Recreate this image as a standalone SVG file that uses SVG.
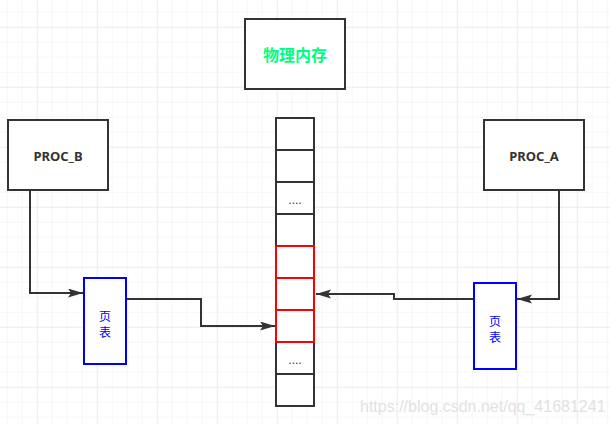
<svg xmlns="http://www.w3.org/2000/svg" width="610" height="424" viewBox="0 0 610 424">
  <style>
    .box { fill: #ffffff; stroke: #333333; stroke-width: 2; }
    .cell { fill: #ffffff; stroke: #333333; stroke-width: 2; }
    .red { fill: none; stroke: #ff0000; stroke-width: 2; }
    .pt { fill: #ffffff; stroke: #0000ff; stroke-width: 2; }
    .lbl { font-family: "Noto Sans", "Liberation Sans", sans-serif; font-weight: bold; font-size: 13px; fill: #333333; text-anchor: middle; dominant-baseline: central; }
    .mem { font-family: "Noto Sans CJK SC", sans-serif; font-weight: bold; font-size: 16px; fill: #00ff80; text-anchor: middle; dominant-baseline: central; }
    .ptl { font-family: "Noto Sans CJK SC", sans-serif; font-size: 12px; fill: #0000ff; text-anchor: middle; dominant-baseline: central; }
    .dots { font-family: "Liberation Sans", sans-serif; font-size: 12px; fill: #333333; text-anchor: middle; }
    .conn { fill: none; stroke: #333333; stroke-width: 2; }
    .wm { font-family: "Liberation Sans", Arial, sans-serif; font-size: 16px; fill: #e2e2e2; }
  </style>
  <defs>
    <pattern id="minor" x="6.7" y="11.7" width="15" height="15" patternUnits="userSpaceOnUse">
      <path d="M0,0 V15 M0,0 H15" fill="none" stroke="#f0f0f0" stroke-width="1"/>
    </pattern>
    <pattern id="major" x="36.7" y="26.7" width="60" height="60" patternUnits="userSpaceOnUse">
      <path d="M0,0 V60 M0,0 H60" fill="none" stroke="#e2e2e2" stroke-width="1"/>
    </pattern>
    <marker id="arr" markerUnits="userSpaceOnUse" markerWidth="16" markerHeight="10" refX="15" refY="4.5" orient="auto">
      <path d="M0,0 L15,4.5 L0,9 L3,4.5 Z" fill="#333333"/>
    </marker>
  </defs>
  <rect width="610" height="424" fill="#ffffff"/>
  <rect width="610" height="424" fill="url(#minor)"/>
  <rect width="610" height="424" fill="url(#major)"/>

  <g id="connectors">
    <path class="conn" d="M30,190 V293 H83" marker-end="url(#arr)"/>
    <path class="conn" d="M126,299 H201 V326 H275" marker-end="url(#arr)"/>
    <path class="conn" d="M559,190 V299 H517" marker-end="url(#arr)"/>
    <path class="conn" d="M474,299 H394 V294 H316" marker-end="url(#arr)"/>
  </g>

  <g id="mem-title">
    <rect class="box" x="245" y="19" width="100" height="70"/>
    <text class="mem" x="295" y="54">物理内存</text>
  </g>
  <g id="proc-b">
    <rect class="box" x="8" y="120" width="100" height="70"/>
    <text class="lbl" x="58" y="156">PROC_B</text>
  </g>
  <g id="proc-a">
    <rect class="box" x="484" y="120" width="100" height="70"/>
    <text class="lbl" x="534" y="156">PROC_A</text>
  </g>
  <g id="memory">
    <rect class="cell" x="276" y="118" width="38" height="32"/>
    <rect class="cell" x="276" y="150" width="38" height="32"/>
    <rect class="cell" x="276" y="182" width="38" height="32"/>
    <rect class="cell" x="276" y="214" width="38" height="32"/>
    <rect class="cell" x="276" y="246" width="38" height="32"/>
    <rect class="cell" x="276" y="278" width="38" height="32"/>
    <rect class="cell" x="276" y="310" width="38" height="32"/>
    <rect class="cell" x="276" y="342" width="38" height="32"/>
    <rect class="cell" x="276" y="374" width="38" height="32"/>
    <rect class="red" x="276" y="246" width="38" height="32"/>
    <rect class="red" x="276" y="278" width="38" height="32"/>
    <rect class="red" x="276" y="310" width="38" height="32"/>
    <text class="dots" x="295" y="204">....</text>
    <text class="dots" x="295" y="364">....</text>
  </g>
  <g id="pt-b">
    <rect class="pt" x="84" y="278" width="42" height="86"/>
    <text class="ptl" x="105" y="315">页</text>
    <text class="ptl" x="105" y="331">表</text>
  </g>
  <g id="pt-a">
    <rect class="pt" x="474" y="283" width="42" height="86"/>
    <text class="ptl" x="495" y="320">页</text>
    <text class="ptl" x="495" y="336">表</text>
  </g>
  <text class="wm" x="360" y="412">https://blog.csdn.net/qq_41681241</text>
</svg>
